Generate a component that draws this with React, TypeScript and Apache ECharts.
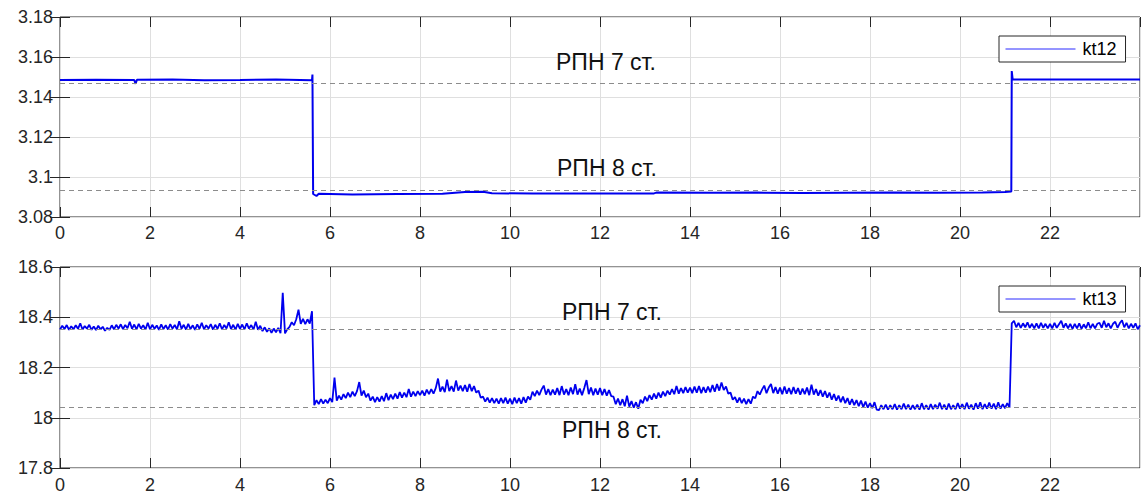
import React, { useEffect, useRef } from "react";
import * as echarts from "echarts";

// ---------- data ----------
const X_TICKS = [0, 2, 4, 6, 8, 10, 12, 14, 16, 18, 20, 22];
const X_MIN = 0;
const X_MAX = 24;

// kt12: [hour, value] points
const KT12_X = [
  0, 0.8, 1.65, 1.68, 1.71, 2.5, 3.2, 4.0, 4.8, 5.6, 5.61, 5.625, 5.7, 5.75, 6.5, 7.5,
  8.5, 9.0, 9.4, 9.6, 10.5, 11.5, 12.5, 13.2, 13.25, 14.5, 15.5, 16.5, 17.5, 18.5,
  19.5, 20.5, 21.0, 21.14, 21.15, 21.17, 22, 23, 24,
];
const KT12_Y = [
  3.1485, 3.1486, 3.1485, 3.1466, 3.1486, 3.1487, 3.1484, 3.1485, 3.1487, 3.1484,
  3.1512, 3.0915, 3.0905, 3.0916, 3.0913, 3.0915, 3.0916, 3.0925, 3.0926, 3.0919,
  3.0917, 3.0918, 3.0918, 3.0918, 3.0922, 3.0921, 3.0922, 3.092, 3.0921, 3.0922,
  3.0921, 3.0922, 3.0925, 3.0928, 3.153, 3.1488, 3.1487, 3.1488, 3.1487,
];
const KT12_REF = [3.1468, 3.0932]; // РПН 7 ст., РПН 8 ст.

// kt13: values sampled every 0.05 h from 0 to 24
const KT13_STEP = 0.05;
const KT13_Y = [
  // 0 h
  18.351, 18.366, 18.353, 18.369, 18.35, 18.364, 18.352, 18.368, 18.354, 18.376,
  18.351, 18.365, 18.355, 18.37, 18.35, 18.363, 18.349, 18.366, 18.352, 18.362,
  // 1 h
  18.346, 18.358, 18.35, 18.368, 18.352, 18.37, 18.355, 18.372, 18.353, 18.369,
  18.356, 18.382, 18.354, 18.371, 18.352, 18.374, 18.355, 18.368, 18.351, 18.378,
  // 2 h
  18.352, 18.37, 18.354, 18.367, 18.35, 18.372, 18.353, 18.368, 18.351, 18.373,
  18.355, 18.369, 18.352, 18.384, 18.354, 18.37, 18.351, 18.374, 18.353, 18.368,
  // 3 h
  18.35, 18.372, 18.354, 18.378, 18.352, 18.368, 18.355, 18.373, 18.351, 18.37,
  18.354, 18.376, 18.352, 18.369, 18.355, 18.38, 18.353, 18.37, 18.351, 18.374,
  // 4 h
  18.354, 18.371, 18.352, 18.376, 18.355, 18.369, 18.351, 18.382, 18.35, 18.366,
  18.345, 18.36, 18.342, 18.356, 18.338, 18.355, 18.34, 18.358, 18.337, 18.497,
  // 5 h
  18.336, 18.352, 18.362, 18.38, 18.368, 18.392, 18.43, 18.374, 18.394, 18.373,
  18.392, 18.375, 18.424, 18.05, 18.07, 18.054, 18.074, 18.056, 18.072, 18.058,
  // 6 h
  18.078, 18.062, 18.16, 18.068, 18.088, 18.072, 18.094, 18.078, 18.1, 18.082,
  18.104, 18.086, 18.106, 18.142, 18.088, 18.108, 18.082, 18.096, 18.068, 18.084,
  // 7 h
  18.062, 18.082, 18.064, 18.086, 18.066, 18.098, 18.07, 18.092, 18.074, 18.096,
  18.076, 18.102, 18.08, 18.1, 18.082, 18.114, 18.084, 18.104, 18.086, 18.106,
  // 8 h
  18.09, 18.108, 18.088, 18.112, 18.094, 18.114, 18.096, 18.118, 18.156, 18.104,
  18.124, 18.102, 18.152, 18.106, 18.126, 18.104, 18.148, 18.108, 18.128, 18.106,
  // 9 h
  18.13, 18.104, 18.134, 18.106, 18.126, 18.1, 18.108, 18.08, 18.084, 18.064,
  18.08, 18.06, 18.078, 18.058, 18.076, 18.056, 18.078, 18.058, 18.08, 18.056,
  // 10 h
  18.076, 18.054, 18.08, 18.058, 18.078, 18.056, 18.082, 18.06, 18.084, 18.072,
  18.104, 18.086, 18.108, 18.09, 18.112, 18.128, 18.092, 18.114, 18.09, 18.112,
  // 11 h
  18.092, 18.118, 18.09, 18.126, 18.092, 18.114, 18.09, 18.12, 18.094, 18.134,
  18.092, 18.116, 18.09, 18.118, 18.15, 18.094, 18.12, 18.09, 18.116, 18.092,
  // 12 h
  18.118, 18.09, 18.114, 18.088, 18.11, 18.086, 18.084, 18.054, 18.076, 18.05,
  18.074, 18.046, 18.088, 18.044, 18.066, 18.04, 18.062, 18.036, 18.072, 18.058,
  // 13 h
  18.084, 18.066, 18.09, 18.072, 18.096, 18.076, 18.1, 18.08, 18.104, 18.086,
  18.108, 18.092, 18.114, 18.094, 18.126, 18.096, 18.118, 18.098, 18.122, 18.1,
  // 14 h
  18.12, 18.098, 18.124, 18.1, 18.126, 18.098, 18.122, 18.1, 18.124, 18.102,
  18.13, 18.104, 18.134, 18.108, 18.14, 18.11, 18.124, 18.096, 18.1, 18.072,
  // 15 h
  18.082, 18.06, 18.08, 18.058, 18.076, 18.054, 18.074, 18.056, 18.084, 18.078,
  18.106, 18.092, 18.112, 18.128, 18.098, 18.12, 18.134, 18.098, 18.122, 18.096,
  // 16 h
  18.12, 18.094, 18.124, 18.096, 18.118, 18.094, 18.122, 18.096, 18.118, 18.092,
  18.116, 18.094, 18.12, 18.09, 18.132, 18.092, 18.114, 18.088, 18.11, 18.084,
  // 17 h
  18.106, 18.08, 18.1, 18.072, 18.094, 18.068, 18.088, 18.062, 18.084, 18.058,
  18.078, 18.052, 18.074, 18.05, 18.07, 18.046, 18.068, 18.042, 18.064, 18.04,
  // 18 h
  18.058, 18.038, 18.062, 18.032, 18.03, 18.05, 18.034, 18.052, 18.032, 18.05,
  18.034, 18.054, 18.032, 18.05, 18.034, 18.056, 18.034, 18.052, 18.032, 18.05,
  // 19 h
  18.034, 18.052, 18.032, 18.058, 18.034, 18.05, 18.032, 18.054, 18.034, 18.052,
  18.036, 18.06, 18.034, 18.052, 18.032, 18.056, 18.034, 18.05, 18.034, 18.058,
  // 20 h
  18.036, 18.054, 18.034, 18.06, 18.036, 18.052, 18.032, 18.058, 18.036, 18.062,
  18.034, 18.054, 18.036, 18.06, 18.036, 18.056, 18.034, 18.062, 18.036, 18.054,
  // 21 h
  18.038, 18.058, 18.04, 18.376, 18.386, 18.36, 18.378, 18.358, 18.376, 18.36,
  18.38, 18.358, 18.374, 18.356, 18.376, 18.356, 18.378, 18.358, 18.374, 18.356,
  // 22 h
  18.374, 18.356, 18.378, 18.358, 18.372, 18.386, 18.358, 18.376, 18.356, 18.374,
  18.354, 18.374, 18.356, 18.376, 18.354, 18.372, 18.356, 18.38, 18.356, 18.374,
  // 23 h
  18.356, 18.374, 18.378, 18.358, 18.386, 18.36, 18.376, 18.356, 18.374, 18.382,
  18.358, 18.376, 18.388, 18.36, 18.378, 18.356, 18.374, 18.358, 18.376, 18.352,
  // 24 h
  18.368,
];
const KT13_REF = [18.352, 18.043];

const Y1_MIN = 3.08, Y1_MAX = 3.18, Y1_STEP = 0.02;
const Y2_MIN = 17.8, Y2_MAX = 18.6, Y2_STEP = 0.2;

const ANNOT_TEXT = ["РПН 7 ст.", "РПН 8 ст."];

// ---------- styling ----------
const FONT = '"Liberation Sans", Arial, Helvetica, sans-serif';
const AX = "#262626";
const GRIDC = "#dfdfdf";
const BLUE = "#0000ee";

export default function App() {
  const ref = useRef<HTMLDivElement>(null);

  useEffect(() => {
    if (!ref.current) return;
    const chart = echarts.init(ref.current, undefined, { renderer: "svg" });

    const kt12Data = KT12_X.map((x, i) => [x, KT12_Y[i]]);
    const kt13Data = KT13_Y.map((y, i) => [+(i * KT13_STEP).toFixed(2), y]);

    const grids = [
      { left: 60, top: 17, width: 1080, height: 200 },
      { left: 60, top: 267, width: 1080, height: 201 },
    ];

    const xBase = (gi: number, pos: "bottom" | "top") => ({
      type: "value",
      gridIndex: gi,
      position: pos,
      min: X_MIN,
      max: X_MAX,
      interval: 2,
      axisLine: { show: false },
      axisTick: { show: true, inside: true, length: 10, lineStyle: { color: AX, width: 1 } },
      axisLabel: {
        show: pos === "bottom",
        margin: gi === 0 ? 7 : 8,
        fontSize: 18,
        fontFamily: FONT,
        color: AX,
        showMaxLabel: false,
        formatter: (v: number) => (X_TICKS.includes(v) ? String(v) : ""),
      },
      splitLine: { show: pos === "bottom", lineStyle: { color: GRIDC, width: 1 } },
    });

    const yBase = (gi: number, pos: "left" | "right", min: number, max: number, step: number, dec: number) => ({
      type: "value",
      gridIndex: gi,
      position: pos,
      min,
      max,
      interval: step,
      axisLine: { show: false },
      axisTick: { show: true, inside: true, length: 10, lineStyle: { color: AX, width: 1 } },
      axisLabel: {
        show: pos === "left",
        margin: 7,
        fontSize: 18,
        fontFamily: FONT,
        color: AX,
        formatter: (v: number) => String(+v.toFixed(dec)),
      },
      splitLine: { show: pos === "left", lineStyle: { color: GRIDC, width: 1 } },
    });

    const refLine = (vals: number[]) => ({
      silent: true,
      symbol: "none",
      precision: 4,
      label: { show: false },
      lineStyle: { color: "#8c8c8c", type: [5, 4], width: 1 },
      data: vals.map((v) => ({ yAxis: v })),
    });

    const legendBase = (name: string, top: number) => ({
      data: [name],
      left: 999,
      top,
      orient: "horizontal",
      backgroundColor: "#ffffff",
      borderColor: AX,
      borderWidth: 1,
      borderRadius: 0,
      padding: [4, 9, 4, 6],
      itemWidth: 70,
      itemHeight: 18,
      itemGap: 0,
      itemStyle: { opacity: 0 },
      lineStyle: { color: "#2a2aff", width: 1 },
      textStyle: { fontSize: 18, fontFamily: FONT, color: "#000", padding: [0, 0, 0, 2] },
      selectedMode: false,
    });

    const annot = (text: string, x: number, y: number) => ({
      type: "text",
      z: 100,
      style: {
        text,
        x,
        y,
        textAlign: "center",
        textVerticalAlign: "middle",
        font: `23px ${FONT}`,
        fill: "#111111",
      },
    });

    chart.setOption({
      animation: false,
      backgroundColor: "#ffffff",
      grid: grids.map((g) => ({ ...g, show: true, borderColor: AX, borderWidth: 1, backgroundColor: "transparent" })),
      xAxis: [xBase(0, "bottom"), xBase(0, "top"), xBase(1, "bottom"), xBase(1, "top")],
      yAxis: [
        yBase(0, "left", Y1_MIN, Y1_MAX, Y1_STEP, 2),
        yBase(0, "right", Y1_MIN, Y1_MAX, Y1_STEP, 2),
        yBase(1, "left", Y2_MIN, Y2_MAX, Y2_STEP, 1),
        yBase(1, "right", Y2_MIN, Y2_MAX, Y2_STEP, 1),
      ],
      legend: [legendBase("kt12", 36), legendBase("kt13", 286)],
      series: [
        {
          name: "kt12",
          type: "line",
          xAxisIndex: 0,
          yAxisIndex: 0,
          data: kt12Data,
          symbol: "none",
          showSymbol: false,
          lineStyle: { color: BLUE, width: 2 },
          itemStyle: { color: BLUE },
          markLine: refLine(KT12_REF),
          z: 3,
        },
        {
          name: "kt13",
          type: "line",
          xAxisIndex: 2,
          yAxisIndex: 2,
          data: kt13Data,
          symbol: "none",
          showSymbol: false,
          lineStyle: { color: BLUE, width: 1.8 },
          itemStyle: { color: BLUE },
          markLine: refLine(KT13_REF),
          z: 3,
        },
      ],
      graphic: [
        annot(ANNOT_TEXT[0], 606, 62),
        annot(ANNOT_TEXT[1], 607, 168),
        annot(ANNOT_TEXT[0], 612, 312),
        annot(ANNOT_TEXT[1], 612, 430),
      ],
    });

    return () => chart.dispose();
  }, []);

  return (
    <div
      ref={ref}
      style={{ position: "fixed", left: 0, top: 0, width: 1143, height: 495, background: "#fff" }}
    />
  );
}
